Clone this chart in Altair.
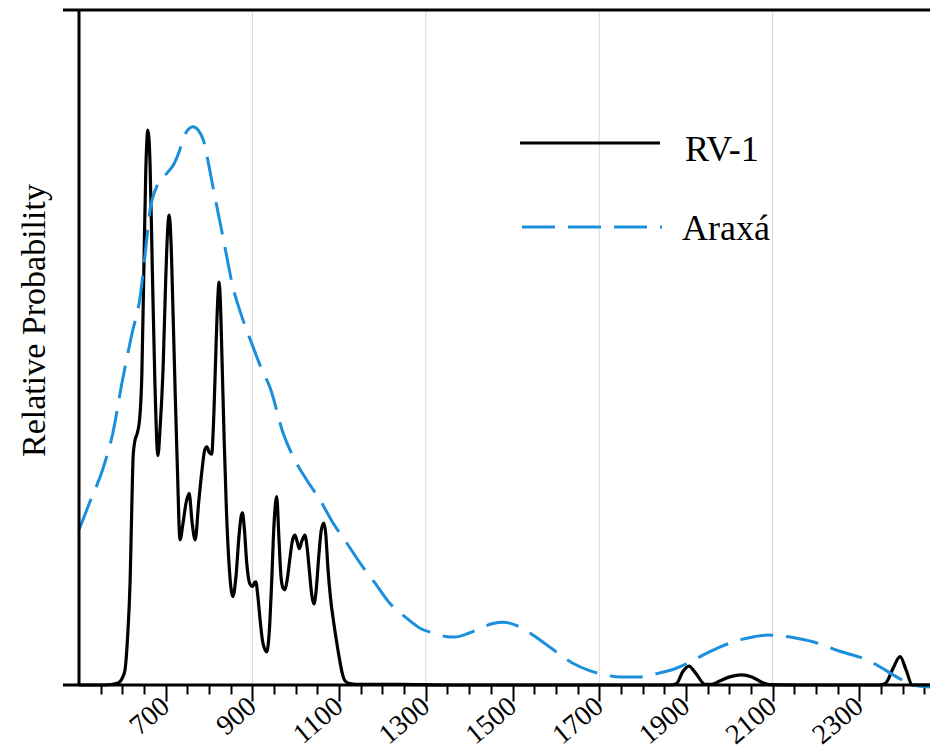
import altair as alt
import pandas as pd

# ---- data ----
series = ["RV-1", "Araxá"]

rv_x = [500, 560, 590, 601, 606, 612, 618, 622, 625, 630, 633, 640, 645, 650, 654, 659, 664, 669, 675, 682,
        687, 694, 700, 705, 708, 712, 717, 722, 727, 733, 740, 747, 754, 761, 768, 776, 784, 790, 795, 800,
        806, 811, 816, 820, 823, 826, 830, 835, 840, 846, 855, 862, 869, 874, 877, 881, 887, 894, 901, 905,
        908, 912, 918, 924, 933, 939, 944, 950, 956, 961, 966, 971, 975, 980, 986, 992, 998, 1003, 1008, 1014,
        1021, 1026, 1032, 1037, 1042, 1047, 1053, 1059, 1065, 1069, 1074, 1080, 1087, 1094, 1101, 1107, 1114,
        1125, 1140, 1240, 1355, 1816, 1863, 1878, 1893, 1907, 1922, 1944, 1960, 1978, 2001, 2028, 2052, 2075,
        2093, 2163, 2347, 2361, 2378, 2394, 2408, 2422, 2463]
rv_y = [0, 0, 0.3, 1.2, 2.2, 7, 15.6, 27, 34, 36.5, 37, 39.5, 46, 63, 76, 82.2, 77, 62, 45, 34,
        38, 47, 60, 68, 69.6, 66, 55, 43, 32, 21.5, 24, 27, 28.4, 24, 21.5, 27, 32, 34.8, 35.3, 34.5,
        34.2, 40, 50, 57, 59.7, 57, 48, 36, 26, 18, 13.1, 16, 22, 25, 25.5, 23.5, 18, 15, 14.6, 15.2,
        15.3, 13.5, 9.5, 6.3, 4.9, 8, 14.6, 24, 27.9, 22, 16, 14.3, 14.1, 15.5, 18.5, 21.3, 22.2, 21.3, 20.2, 21.3,
        22.2, 20.5, 16.5, 13.3, 12, 14, 19, 23, 24, 22.5, 17.5, 13, 9.5, 6.5, 3.8, 1.8, 0.6,
        0.2, 0.1, 0.1, 0, 0, 0, 0.2, 2, 2.8, 1.8, 0.1, 0.1, 0.6, 1.2, 1.5, 1.2, 0.4,
        0.05, 0, 0, 0.3, 2.5, 4.2, 2.2, 0, 0]

ar_x = [500, 525, 555, 578, 599, 622, 641, 652, 664, 679, 700, 720, 732, 742, 752, 763, 775, 787, 797, 809, 832,
        855, 876, 899, 920, 941, 971, 994, 1025, 1056, 1086, 1118, 1148, 1183, 1217, 1256, 1290, 1317, 1345,
        1367, 1400, 1432, 1455, 1478, 1510, 1540, 1580, 1637, 1679, 1715, 1748, 1794, 1840, 1870, 1909, 1945,
        1978, 2025, 2060, 2089, 2120, 2140, 2193, 2255, 2318, 2350, 2378, 2400, 2424, 2463]
ar_y = [23, 27.1, 32, 37.3, 44.7, 52, 57.5, 63.5, 70.4, 73.8, 75.6, 77.3, 79.2, 81.2, 82.3, 82.7, 82.2, 80.7, 77.8, 73.8, 66.4,
        59, 54.5, 50.5, 47, 44, 37.3, 33.8, 30.4, 27.4, 24, 21, 18.1, 15.1, 12.1, 9.9, 8.3, 7.7, 7.2,
        7.1, 7.7, 8.6, 9.1, 9.3, 8.8, 7.7, 5.9, 3.3, 2.1, 1.5, 1.2, 1.2, 1.8, 2.3, 3.4, 4.6,
        5.6, 6.7, 7.2, 7.4, 7.3, 7.1, 6.4, 5.0, 3.7, 2.6, 1.5, 0.7, 0, -0.3]

grid_values = [900, 1300, 1700, 2100]
tick_values = list(range(550, 2451, 50))
x_domain = [500, 2463]

W, H = 851, 675
SERIF = "Liberation Serif"
BLUE = "#1b8fdc"

rv = pd.DataFrame({"x": rv_x, "v": rv_y, "series": series[0]})
ar = pd.DataFrame({"x": ar_x, "v": ar_y, "series": series[1]})
grid = pd.DataFrame({"x": grid_values})
one = pd.DataFrame({"a": [0]})

major_test = "datum.value >= 700 && (datum.value - 700) % 200 == 0"

x_axis = alt.Axis(
    values=tick_values, title=None, grid=False, domain=False,
    tickColor="black", tickWidth=2,
    tickSize={"condition": {"test": major_test, "value": 16}, "value": 9},
    labelExpr=f"({major_test}) ? datum.label : ''",
    labelAngle=-40, labelAlign="right", labelBaseline="top",
    labelFont=SERIF, labelFontSize=28, labelColor="black",
    labelPadding=-9, labelOffset=-9, labelFlush=False, labelOverlap=False,
    format="d",
)
x_enc = alt.X("x:Q", scale=alt.Scale(domain=x_domain, nice=False, zero=False), axis=x_axis)
y_enc = alt.Y(
    "v:Q",
    scale=alt.Scale(domain=[0, 100], nice=False),
    axis=alt.Axis(
        title="Relative Probability", labels=False, ticks=False, domain=False, grid=False,
        titleFont=SERIF, titleFontSize=34, titleFontWeight="normal", titleColor="black",
        titleAngle=270, titleX=-45, titleY=310, titleAlign="center", titleBaseline="middle",
    ),
)

grid_layer = alt.Chart(grid).mark_rule(color="#d6d6d6", strokeWidth=1).encode(x=x_enc)

rv_line = alt.Chart(rv).mark_line(color="black", strokeWidth=3.2, interpolate="monotone").encode(
    x=x_enc, y=y_enc
)
ar_line = alt.Chart(ar).mark_line(color=BLUE, strokeWidth=3, strokeDash=[33, 13],
                                   interpolate="monotone").encode(x=x_enc, y=y_enc)

top_line = alt.Chart(one).mark_rule(color="black", strokeWidth=3).encode(
    x=alt.value(-16), x2=alt.value(W), y=alt.value(0))
bottom_line = alt.Chart(one).mark_rule(color="black", strokeWidth=3).encode(
    x=alt.value(-16), x2=alt.value(W), y=alt.value(H))
left_line = alt.Chart(one).mark_rule(color="black", strokeWidth=3).encode(
    x=alt.value(0), y=alt.value(0), y2=alt.value(H))

leg1 = alt.Chart(one).mark_rule(color="black", strokeWidth=3).encode(
    x=alt.value(441), x2=alt.value(581), y=alt.value(133))
leg2 = alt.Chart(one).mark_rule(color=BLUE, strokeWidth=3, strokeDash=[33, 13]).encode(
    x=alt.value(443), x2=alt.value(583), y=alt.value(217))
leg_t1 = alt.Chart(one).mark_text(text=series[0], font=SERIF, fontSize=36, color="black",
                                  align="left", baseline="alphabetic").encode(
    x=alt.value(606), y=alt.value(151))
leg_t2 = alt.Chart(one).mark_text(text=series[1], font=SERIF, fontSize=36, color="black",
                                  align="left", baseline="alphabetic").encode(
    x=alt.value(603), y=alt.value(230))

chart = alt.layer(
    grid_layer, rv_line, ar_line, top_line, bottom_line, left_line, leg1, leg2, leg_t1, leg_t2
).properties(
    width=W, height=H,
    autosize=alt.AutoSizeParams(type="none"),
    padding={"left": 71, "top": 2, "right": 0, "bottom": 64},
    background="white",
).configure_view(strokeWidth=0)

chart.save("out.html", embed_options={"renderer": "svg", "actions": False})
